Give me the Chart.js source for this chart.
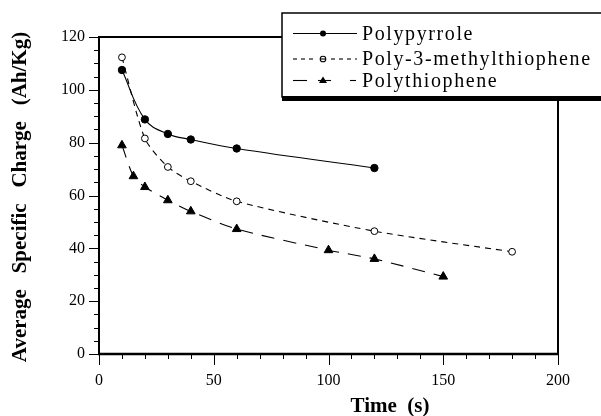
<!DOCTYPE html>
<html><head><meta charset="utf-8">
<script src="https://cdn.jsdelivr.net/npm/chart.js@4/dist/chart.umd.min.js"></script>
<style>html,body{margin:0;padding:0;background:#fff;overflow:hidden}canvas{display:block}</style>
</head><body>
<canvas id="c" width="601" height="416"></canvas>
<script>
// ---- data ----
const seriesNames = ['Polypyrrole', 'Poly-3-methylthiophene', 'Polythiophene'];
const timePolypyrrole = [10, 20, 30, 40, 60, 120];
const chargePolypyrrole = [107.5, 88.8, 83.3, 81.2, 77.8, 70.4];
const timeP3MT = [10, 20, 30, 40, 60, 120, 180];
const chargeP3MT = [112.3, 81.6, 70.8, 65.4, 57.8, 46.5, 38.7];
const timePT = [10, 15, 20, 30, 40, 60, 100, 120, 150];
const chargePT = [79, 67.3, 63.2, 58.2, 54, 47.3, 39.3, 36, 29.3];
const xRange = [0, 200];
const yRange = [0, 120];
const xMajorStep = 50, xMinorStep = 10;
const yMajorStep = 20, yMinorStep = 5;
const xTitle = 'Time  (s)';
const yTitle = 'Average   Specific   Charge   (Ah/Kg)';

const pts = (xs, ys) => xs.map((x, i) => ({ x: x, y: ys[i] }));

const styles = [
  { dash: [], pointStyle: 'circle', radius: 3.7, bg: '#000', tension: 0.4 },
  { dash: [6, 5], pointStyle: 'circle', radius: 3.4, bg: '#fff', tension: 0.25 },
  { dash: [13, 9], pointStyle: 'triangle', radius: 5, bg: '#000', tension: 0.25 }
];
const seriesData = [
  pts(timePolypyrrole, chargePolypyrrole),
  pts(timeP3MT, chargeP3MT),
  pts(timePT, chargePT)
];

const datasets = seriesData.map((d, i) => ({
  label: seriesNames[i],
  data: d,
  borderColor: '#000',
  borderWidth: 1.1,
  borderDash: styles[i].dash,
  tension: styles[i].tension,
  pointStyle: styles[i].pointStyle,
  pointRadius: styles[i].radius,
  pointBackgroundColor: styles[i].bg,
  pointBorderColor: '#000',
  pointBorderWidth: 1,
  fill: false
}));

const SERIF = '"Liberation Serif", "Times New Roman", serif';

const framePlugin = {
  id: 'frame',
  afterDraw(chart) {
    const ctx = chart.ctx, a = chart.chartArea;
    const xs = chart.scales.x, ys = chart.scales.y;
    ctx.save();
    ctx.strokeStyle = '#000';
    // minor/major ticks
    ctx.lineWidth = 1;
    for (let v = xRange[0]; v <= xRange[1] + 1e-9; v += xMinorStep) {
      const px = Math.round(xs.getPixelForValue(v)) + 0.5;
      const len = (v % xMajorStep === 0) ? 11 : 5;
      ctx.beginPath(); ctx.moveTo(px, a.bottom); ctx.lineTo(px, a.bottom + len); ctx.stroke();
    }
    for (let v = yRange[0]; v <= yRange[1] + 1e-9; v += yMinorStep) {
      const py = Math.round(ys.getPixelForValue(v)) + 0.5;
      const len = (v % yMajorStep === 0) ? 10 : 5;
      ctx.beginPath(); ctx.moveTo(a.left, py); ctx.lineTo(a.left - len, py); ctx.stroke();
    }
    // frame
    ctx.lineWidth = 2;
    ctx.strokeRect(a.left, a.top, a.right - a.left, a.bottom - a.top);
    ctx.lineWidth = 2.6;
    ctx.beginPath(); ctx.moveTo(a.left - 1, a.bottom); ctx.lineTo(a.right + 1, a.bottom); ctx.stroke();

    // axis titles
    ctx.fillStyle = '#000';
    ctx.font = 'bold 21px ' + SERIF;
    ctx.textAlign = 'center';
    ctx.textBaseline = 'alphabetic';
    ctx.fillText(xTitle, 390, 412);
    ctx.save();
    ctx.translate(26, 197);
    ctx.rotate(-Math.PI / 2);
    ctx.fillText(yTitle, 0, 0);
    ctx.restore();

    // legend
    const bx = 282, by = 13, bw = 340, bh = 84;
    ctx.fillStyle = '#fff';
    ctx.fillRect(bx, by, bw, bh);
    ctx.fillStyle = '#000';
    ctx.fillRect(bx, by + bh - 1, bw, 5);
    ctx.lineWidth = 1.5;
    ctx.strokeRect(bx, by, bw, bh);
    const rows = [33, 58.5, 80];
    const mx = 323;
    ctx.font = '20px ' + SERIF;
    ctx.textAlign = 'left';
    try { ctx.letterSpacing = '1.6px'; } catch (e) {}
    rows.forEach((ry, i) => {
      ctx.strokeStyle = '#000';
      ctx.lineWidth = 1.1;
      const seg = (x1, x2, dash) => { ctx.setLineDash(dash); ctx.beginPath(); ctx.moveTo(x1, ry + 0.5); ctx.lineTo(x2, ry + 0.5); ctx.stroke(); };
      if (i === 0) {
        seg(293, 357, []);
        ctx.beginPath(); ctx.arc(mx, ry + 0.5, 3, 0, Math.PI * 2); ctx.fill();
      } else if (i === 1) {
        seg(293, 316, [4, 4]);
        seg(331, 357, [4, 4]);
        ctx.setLineDash([]);
        ctx.beginPath(); ctx.arc(mx, ry + 0.5, 2.8, 0, Math.PI * 2);
        ctx.fillStyle = '#fff'; ctx.fill(); ctx.stroke();
        ctx.beginPath(); ctx.moveTo(mx - 2.8, ry + 0.5); ctx.lineTo(mx + 2.8, ry + 0.5); ctx.stroke();
        ctx.fillStyle = '#000';
      } else {
        seg(293, 307, []);
        seg(318, 331, []);
        seg(350, 356, []);
        ctx.setLineDash([]);
        ctx.beginPath();
        ctx.moveTo(mx, ry - 3.5); ctx.lineTo(mx + 4, ry + 3); ctx.lineTo(mx - 4, ry + 3); ctx.closePath(); ctx.fill();
      }
      ctx.setLineDash([]);
      ctx.fillStyle = '#000';
      ctx.fillText(seriesNames[i], 362, ry + 6.5);
    });
    ctx.restore();
  }
};

new Chart(document.getElementById('c'), {
  type: 'line',
  data: { datasets: datasets },
  options: {
    responsive: false,
    animation: false,
    events: [],
    layout: { padding: { top: 37, right: 43, left: 0, bottom: 0 } },
    plugins: { legend: { display: false }, tooltip: { enabled: false } },
    scales: {
      x: {
        type: 'linear', min: xRange[0], max: xRange[1],
        grid: { display: false, drawTicks: false },
        border: { display: false },
        ticks: { stepSize: xMajorStep, color: '#000', padding: 17, font: { family: SERIF, size: 16 } },
        afterFit(s) { s.height = 62; }
      },
      y: {
        type: 'linear', min: yRange[0], max: yRange[1],
        grid: { display: false, drawTicks: false },
        border: { display: false },
        ticks: { stepSize: yMajorStep, color: '#000', padding: 14, font: { family: SERIF, size: 16 } },
        afterFit(s) { s.width = 99; }
      }
    }
  },
  plugins: [framePlugin]
});
</script>
</body></html>
